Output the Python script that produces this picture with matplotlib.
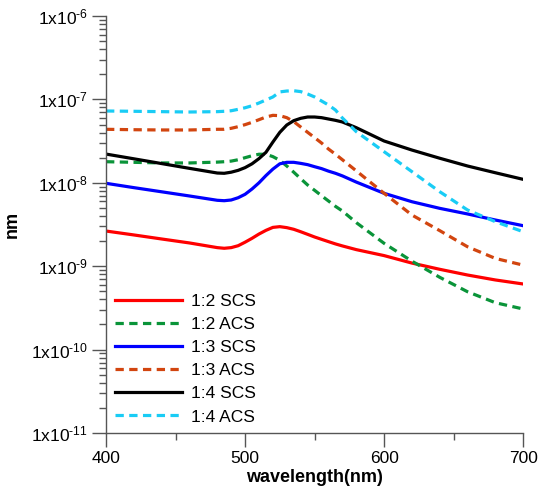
import matplotlib
matplotlib.use("Agg")
import matplotlib.pyplot as plt
from matplotlib.ticker import FixedLocator, LogLocator, FuncFormatter, MultipleLocator
import numpy as np

plt.rcParams['font.family'] = ['Liberation Sans', 'DejaVu Sans']
plt.rcParams['mathtext.fontset'] = 'custom'
plt.rcParams['mathtext.rm'] = 'Liberation Sans'
plt.rcParams['mathtext.it'] = 'Liberation Sans'

wavelength = [400, 420, 440, 460, 480, 485, 490, 495, 500, 505, 510, 515, 520, 525, 530,
              535, 540, 545, 550, 555, 560, 565, 570, 580, 600, 620, 640, 660, 680, 700]

scs_12 = [2.64e-9, 2.37e-9, 2.12e-9, 1.90e-9, 1.67e-9, 1.64e-9, 1.67e-9, 1.76e-9, 1.94e-9, 2.16e-9,
          2.43e-9, 2.69e-9, 2.92e-9, 2.98e-9, 2.90e-9, 2.77e-9, 2.59e-9, 2.41e-9, 2.24e-9, 2.10e-9,
          1.97e-9, 1.85e-9, 1.75e-9, 1.58e-9, 1.34e-9, 1.09e-9, 9.18e-10, 7.84e-10, 6.84e-10, 6.12e-10]
acs_12 = [1.79e-8, 1.76e-8, 1.73e-8, 1.73e-8, 1.77e-8, 1.79e-8, 1.82e-8, 1.89e-8, 2.00e-8, 2.11e-8,
          2.20e-8, 2.20e-8, 2.06e-8, 1.86e-8, 1.59e-8, 1.34e-8, 1.12e-8, 9.41e-9, 8.13e-9, 7.00e-9,
          6.05e-9, 5.22e-9, 4.59e-9, 3.33e-9, 1.88e-9, 1.15e-9, 7.36e-10, 4.94e-10, 3.65e-10, 3.07e-10]
scs_13 = [9.86e-9, 8.75e-9, 7.80e-9, 6.95e-9, 6.17e-9, 6.10e-9, 6.22e-9, 6.62e-9, 7.28e-9, 8.43e-9,
          1.00e-8, 1.22e-8, 1.46e-8, 1.69e-8, 1.76e-8, 1.76e-8, 1.71e-8, 1.65e-8, 1.56e-8, 1.48e-8,
          1.38e-8, 1.30e-8, 1.21e-8, 1.02e-8, 7.48e-9, 5.93e-9, 4.94e-9, 4.23e-9, 3.58e-9, 3.06e-9]
acs_13 = [4.38e-8, 4.33e-8, 4.30e-8, 4.30e-8, 4.38e-8, 4.38e-8, 4.50e-8, 4.71e-8, 4.98e-8, 5.31e-8,
          5.71e-8, 6.15e-8, 6.44e-8, 6.38e-8, 6.04e-8, 5.41e-8, 4.67e-8, 4.03e-8, 3.48e-8, 3.00e-8,
          2.54e-8, 2.20e-8, 1.89e-8, 1.39e-8, 7.48e-9, 4.11e-9, 2.67e-9, 1.71e-9, 1.24e-9, 1.03e-9]
scs_14 = [2.21e-8, 1.94e-8, 1.70e-8, 1.49e-8, 1.31e-8, 1.30e-8, 1.34e-8, 1.41e-8, 1.52e-8, 1.69e-8,
          1.95e-8, 2.32e-8, 3.08e-8, 4.03e-8, 4.93e-8, 5.56e-8, 5.93e-8, 6.15e-8, 6.15e-8, 6.04e-8,
          5.82e-8, 5.61e-8, 5.36e-8, 4.58e-8, 3.17e-8, 2.47e-8, 1.97e-8, 1.59e-8, 1.32e-8, 1.10e-8]
acs_14 = [7.26e-8, 7.20e-8, 7.13e-8, 7.06e-8, 7.13e-8, 7.20e-8, 7.31e-8, 7.60e-8, 7.94e-8, 8.39e-8,
          9.06e-8, 9.84e-8, 1.07e-7, 1.23e-7, 1.26e-7, 1.27e-7, 1.24e-7, 1.16e-7, 1.07e-7, 9.57e-8,
          8.57e-8, 7.46e-8, 5.98e-8, 4.10e-8, 2.36e-8, 1.36e-8, 7.82e-9, 4.72e-9, 3.42e-9, 2.59e-9]

labels = ['1:2 SCS', '1:2 ACS', '1:3 SCS', '1:3 ACS', '1:4 SCS', '1:4 ACS']
series = [scs_12, acs_12, scs_13, acs_13, scs_14, acs_14]
colors = ['#FF0000', '#0A9439', '#0000FF', '#D2450F', '#000000', '#19CCF5']
dashed = [False, True, False, True, False, True]

x_ticks = [400, 500, 600, 700]
y_exps = [-11, -10, -9, -8, -7, -6]

fig = plt.figure(figsize=(5.41, 5.0), dpi=100)
ax = fig.add_axes([0.196, 0.134, 0.771, 0.834])

for y, lab, c, d in zip(series, labels, colors, dashed):
    if d:
        ax.plot(wavelength, y, color=c, lw=2.3, label=lab, dashes=(2.6, 1.7),
                dash_capstyle='butt', dash_joinstyle='round')
    else:
        ax.plot(wavelength, y, color=c, lw=2.3, label=lab, solid_joinstyle='round')

ax.set_yscale('log')
ax.set_xlim(400, 700)
ax.set_ylim(10.0 ** y_exps[0], 10.0 ** y_exps[-1])

ax.xaxis.set_major_locator(FixedLocator(x_ticks))
ax.xaxis.set_minor_locator(MultipleLocator(50))
ax.yaxis.set_major_locator(FixedLocator([10.0 ** e for e in y_exps]))
ax.yaxis.set_minor_locator(LogLocator(base=10, subs=np.arange(2, 10)))
ax.yaxis.set_minor_formatter(FuncFormatter(lambda v, p: ''))
ax.yaxis.set_major_formatter(FuncFormatter(
    lambda v, p: r'1x10$^{\text{-}%d}$' % abs(int(round(np.log10(v))))))

for s in ['top', 'right']:
    ax.spines[s].set_visible(False)
axc = '#555555'
for s in ['left', 'bottom']:
    ax.spines[s].set_color(axc)
    ax.spines[s].set_linewidth(1.0)

ax.tick_params(axis='both', which='major', direction='out', length=10, width=1.0,
               color=axc, labelsize=12.5, pad=3)
ax.tick_params(axis='both', which='minor', direction='out', length=5, width=1.0, color=axc)

ax.set_xlabel('wavelength(nm)', fontsize=13, fontweight='bold', labelpad=2)
ax.set_ylabel('nm', fontsize=13, fontweight='bold')
ax.yaxis.set_label_coords(-0.205, 0.5)

leg = ax.legend(loc='lower left', bbox_to_anchor=(0.012, 0.012), frameon=False,
                fontsize=12.5, handlelength=3.9, handletextpad=0.5,
                labelspacing=0.46, borderpad=0.2, borderaxespad=0)

fig.savefig('out.png', dpi=100)
